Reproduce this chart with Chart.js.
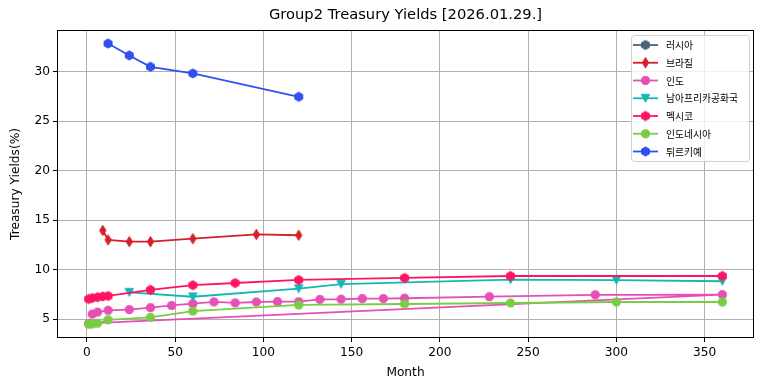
<!DOCTYPE html>
<html>
<head>
<meta charset="utf-8">
<script src="https://cdn.jsdelivr.net/npm/chart.js@4.4.1/dist/chart.umd.min.js"></script>
<style>
  html, body { margin: 0; padding: 0; background: #fff; }
  #wrap { width: 764px; height: 391px; }
</style>
</head>
<body>
<div id="wrap"><canvas id="yields" width="764" height="391"></canvas></div>
<script>
// ticks
const xTicks = [0, 50, 100, 150, 200, 250, 300, 350];
const yTicks = [5, 10, 15, 20, 25, 30];

// series names (legend order)
const countries = ["러시아", "브라질", "인도", "남아프리카공화국", "멕시코", "인도네시아", "튀르키예"];

// months / yields per country
const russiaMonths = [];
const russiaYields = [];

const brazilMonths = [9, 12, 24, 36, 60, 96, 120];
const brazilYields = [13.95, 13.0, 12.82, 12.82, 13.12, 13.55, 13.47];

const indiaMonths = [3, 6, 12, 24, 36, 48, 60, 72, 84, 96, 108, 120, 132, 144, 156, 168, 180, 228, 288, 360, 1];
const indiaYields = [5.5, 5.7, 5.88, 5.95, 6.15, 6.37, 6.55, 6.73, 6.63, 6.72, 6.76, 6.75, 6.98, 7.0, 7.07, 7.07, 7.1, 7.26, 7.45, 7.47, 4.55];

const safricaMonths = [24, 60, 120, 144, 240, 300, 360];
const safricaYields = [7.7, 7.25, 8.07, 8.52, 8.98, 8.93, 8.82];

const mexicoMonths = [1, 3, 6, 9, 12, 36, 60, 84, 120, 180, 240, 360];
const mexicoYields = [7.02, 7.12, 7.2, 7.28, 7.33, 7.95, 8.42, 8.64, 8.95, 9.15, 9.35, 9.35];

const indonesiaMonths = [1, 3, 6, 12, 36, 60, 120, 180, 240, 300, 360];
const indonesiaYields = [4.48, 4.5, 4.58, 4.92, 5.17, 5.8, 6.42, 6.52, 6.62, 6.72, 6.72];

const turkeyMonths = [12, 24, 36, 60, 120];
const turkeyYields = [32.85, 31.65, 30.5, 29.83, 27.47];

const colores = ["#4c6478", "#d5202a", "#e64fb5", "#12b8b2", "#ff1463", "#7acc44", "#3050f0"];
const formas = ["hex", "dthin", "circle", "tridown", "hex", "circle", "hex"];

const titulo = "Group2 Treasury Yields [2026.01.29.]";
const FONT = "'DejaVu Sans', 'Noto Sans CJK KR', sans-serif";

// marcadores estilo matplotlib (hexágono, diamante fino, triángulo abajo)
function marcador(forma, color) {
  const c = document.createElement("canvas");
  c.width = 13; c.height = 13;
  const g = c.getContext("2d");
  g.translate(6.5, 6.5);
  g.fillStyle = color;
  g.strokeStyle = color;
  g.lineWidth = 1;
  g.beginPath();
  if (forma === "circle") {
    g.arc(0, 0, 4.1, 0, Math.PI * 2);
  } else if (forma === "hex") {
    for (let k = 0; k < 6; k++) {
      const a = -Math.PI / 2 + k * Math.PI / 3;
      const px = 4.6 * Math.cos(a), py = 4.6 * Math.sin(a);
      k === 0 ? g.moveTo(px, py) : g.lineTo(px, py);
    }
    g.closePath();
  } else if (forma === "dthin") {
    g.moveTo(0, -5.2); g.lineTo(3.1, 0); g.lineTo(0, 5.2); g.lineTo(-3.1, 0);
    g.closePath();
  } else if (forma === "tridown") {
    g.moveTo(-4.2, -3.8); g.lineTo(4.2, -3.8); g.lineTo(0, 4.0);
    g.closePath();
  }
  g.fill();
  g.stroke();
  return c;
}

function puntos(meses, valores) {
  return meses.map((m, i) => ({ x: m, y: valores[i] }));
}

const series = [
  [russiaMonths, russiaYields],
  [brazilMonths, brazilYields],
  [indiaMonths, indiaYields],
  [safricaMonths, safricaYields],
  [mexicoMonths, mexicoYields],
  [indonesiaMonths, indonesiaYields],
  [turkeyMonths, turkeyYields]
];

const datasets = series.map((s, k) => {
  const img = marcador(formas[k], colores[k]);
  return {
    label: countries[k],
    data: puntos(s[0], s[1]),
    borderColor: colores[k],
    backgroundColor: colores[k],
    borderWidth: 1.8,
    tension: 0,
    pointStyle: img,
    pointRadius: 5,
    pointHoverRadius: 5,
    order: series.length - 1 - k,   // como matplotlib: la última serie encima
    markerImg: img
  };
});

// título centrado sobre el área del gráfico
const cabecera = {
  id: "cabecera",
  afterDraw(chart) {
    const { ctx, chartArea: a } = chart;
    ctx.save();
    ctx.font = "14.7px " + FONT;
    ctx.fillStyle = "#000";
    ctx.textAlign = "center";
    ctx.textBaseline = "middle";
    ctx.fillText(titulo, (a.left + a.right) / 2, 15.5);
    ctx.restore();
  }
};

// marco negro del área (spines)
const marco = {
  id: "marco",
  afterDatasetsDraw(chart) {
    const { ctx, chartArea: a } = chart;
    ctx.save();
    ctx.strokeStyle = "#000";
    ctx.lineWidth = 1;
    ctx.strokeRect(Math.round(a.left) + 0.5, Math.round(a.top) + 0.5,
                   Math.round(a.right - a.left) - 1, Math.round(a.bottom - a.top) - 1);
    ctx.restore();
  }
};

// leyenda dentro del área, arriba a la derecha
const leyenda = {
  id: "leyenda",
  afterDraw(chart) {
    const { ctx, chartArea: a } = chart;
    const ds = chart.data.datasets;
    const right = a.right - 5, top = a.top + 5;
    const w = 118, h = 126;
    const left = right - w;
    ctx.save();
    ctx.beginPath();
    ctx.roundRect(left + 0.5, top + 0.5, w, h, 3);
    ctx.fillStyle = "rgba(255,255,255,0.8)";
    ctx.fill();
    ctx.strokeStyle = "#d0d0d0";
    ctx.lineWidth = 1;
    ctx.stroke();
    ctx.font = "9.8px 'Noto Sans CJK KR', " + FONT;
    ctx.textBaseline = "middle";
    ctx.textAlign = "left";
    ds.forEach((d, i) => {
      const y = top + 10 + i * 17.75;
      ctx.strokeStyle = d.borderColor;
      ctx.lineWidth = 1.8;
      ctx.beginPath();
      ctx.moveTo(left + 2, y);
      ctx.lineTo(left + 27, y);
      ctx.stroke();
      const m = d.markerImg;
      ctx.drawImage(m, left + 14.5 - m.width / 2, y - m.height / 2);
      ctx.fillStyle = "#000";
      ctx.fillText(d.label, left + 35, y + 0.5);
    });
    ctx.restore();
  }
};

new Chart(document.getElementById("yields"), {
  type: "line",
  data: { datasets },
  plugins: [marco, leyenda, cabecera],
  options: {
    responsive: false,
    animation: false,
    devicePixelRatio: 1,
    layout: { padding: { left: 0, right: 10, top: 30, bottom: 0 } },
    plugins: {
      legend: { display: false },
      tooltip: { enabled: false },
      title: { display: false }
    },
    scales: {
      x: {
        type: "linear",
        min: -16.95,
        max: 377.95,
        afterBuildTicks: sc => { sc.ticks = xTicks.map(v => ({ value: v })); },
        afterFit: sc => { sc.height = 53; },
        grid: { color: "#b0b0b0", lineWidth: 1, tickColor: "#000", tickLength: 4, tickWidth: 1 },
        border: { display: false },
        ticks: { color: "#000", font: { family: FONT, size: 12.2 }, padding: 4, maxRotation: 0 },
        title: {
          display: true, text: "Month", color: "#000",
          font: { family: FONT, size: 12.2, lineHeight: 1.2 },
          padding: { top: 0, bottom: 10.4 }
        }
      },
      y: {
        type: "linear",
        min: 3.08,
        max: 34.22,
        afterBuildTicks: sc => { sc.ticks = yTicks.map(v => ({ value: v })); },
        afterFit: sc => { sc.width = 57; },
        grid: { color: "#b0b0b0", lineWidth: 1, tickColor: "#000", tickLength: 4, tickWidth: 1 },
        border: { display: false },
        ticks: { color: "#000", font: { family: FONT, size: 12.2 }, padding: 3 },
        title: {
          display: true, text: "Treasury Yields(%)", color: "#000",
          font: { family: FONT, size: 12.2, lineHeight: 1.2 },
          padding: { top: 8.7, bottom: 0 }
        }
      }
    }
  }
});
</script>
</body>
</html>
